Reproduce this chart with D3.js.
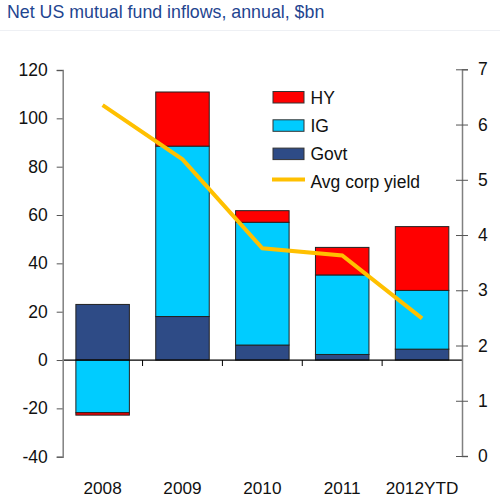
<!DOCTYPE html>
<html>
<head>
<meta charset="utf-8">
<script src="https://cdn.jsdelivr.net/npm/d3@7"></script>
<style>
  body { margin: 0; background: #fff; }
  text { font-family: "Liberation Sans", Arial, sans-serif; }
</style>
</head>
<body>
<svg id="chart" width="500" height="502"></svg>
<script>
// data
var years = ['2008', '2009', '2010', '2011', '2012YTD'];
var govt = [23, 18, 6.2, 2.3, 4.5];
var ig = [-21.8, 70.5, 50.8, 32.9, 24.3];
var hy = [-1.0, 22.4, 4.8, 11.4, 26.4];
var yieldPct = [6.35, 5.37, 3.76, 3.63, 2.49];
var leftTicks = [-40, -20, 0, 20, 40, 60, 80, 100, 120];
var rightTicks = [0, 1, 2, 3, 4, 5, 6, 7];

var colors = { HY: '#ff0000', IG: '#00ccff', Govt: '#2e4b86', line: '#ffc000' };

var svg = d3.select('#chart');
var plotL = 62.7, plotR = 462, plotT = 70, plotB = 456.7;

var x = d3.scaleBand().domain(years).range([plotL, plotR]).paddingInner(0.33).paddingOuter(0.165);
var y = d3.scaleLinear().domain([-40, 120]).range([plotB, plotT]);
var y2 = d3.scaleLinear().domain([0, 7]).range([456, 69.3]);

// title
svg.append('text')
    .attr('x', 7).attr('y', 18)
    .attr('fill', '#1f4590')
    .style('font-size', '17.8px')
    .text('Net US mutual fund inflows, annual, $bn');
svg.append('line')
    .attr('x1', 0).attr('x2', 500).attr('y1', 30.5).attr('y2', 30.5)
    .attr('stroke', '#eef0f4').attr('stroke-width', 1);

// stacks: positives stack upward from 0, negatives downward
var rows = years.map(function (yr, i) {
    var parts = [{ key: 'Govt', v: govt[i] }, { key: 'IG', v: ig[i] }, { key: 'HY', v: hy[i] }];
    var pos = 0, neg = 0;
    return parts.map(function (p) {
        var y0, y1;
        if (p.v >= 0) { y0 = pos; pos += p.v; y1 = pos; }
        else { y0 = neg; neg += p.v; y1 = neg; }
        return { year: yr, key: p.key, y0: y0, y1: y1 };
    });
});

svg.append('g').selectAll('rect')
    .data(d3.merge(rows))
    .enter().append('rect')
    .attr('x', function (d) { return x(d.year); })
    .attr('width', x.bandwidth())
    .attr('y', function (d) { return y(Math.max(d.y0, d.y1)); })
    .attr('height', function (d) { return Math.abs(y(d.y0) - y(d.y1)); })
    .attr('fill', function (d) { return colors[d.key]; })
    .attr('stroke', '#222')
    .attr('stroke-width', 1);

// zero line with category ticks between bars
svg.append('line')
    .attr('x1', plotL).attr('x2', plotR)
    .attr('y1', y(0)).attr('y2', y(0))
    .attr('stroke', '#000').attr('stroke-width', 1.2);
var gap = (x.step() - x.bandwidth()) / 2;
svg.append('g').selectAll('line')
    .data(years.slice(1))
    .enter().append('line')
    .attr('x1', function (d) { return x(d) - gap; })
    .attr('x2', function (d) { return x(d) - gap; })
    .attr('y1', y(0)).attr('y2', y(0) + 6)
    .attr('stroke', '#000').attr('stroke-width', 1);

// category labels
svg.append('g').selectAll('text')
    .data(years)
    .enter().append('text')
    .attr('x', function (d) { return x(d) + x.bandwidth() / 2; })
    .attr('y', 494)
    .attr('text-anchor', 'middle')
    .attr('fill', '#111')
    .style('font-size', '17.2px')
    .text(function (d) { return d; });

// left axis
var gl = svg.append('g').attr('transform', 'translate(' + plotL + ',0)')
    .call(d3.axisLeft(y).tickValues(leftTicks).tickFormat(function (d) { return String(d); })
        .tickSize(6).tickPadding(9));
gl.select('.domain').attr('stroke', '#808080').attr('stroke-width', 1.5);
gl.selectAll('.tick line').attr('stroke', '#555');
gl.selectAll('text').style('font-size', '17.5px').attr('fill', '#111')
    .style('font-family', '"Liberation Sans", Arial, sans-serif');

// right axis, ticks cross the line
var gr = svg.append('g').attr('transform', 'translate(' + plotR + ',0)')
    .call(d3.axisRight(y2).tickValues(rightTicks).tickFormat(d3.format('d')).tickSize(6).tickPadding(10));
gr.select('.domain').attr('stroke', '#808080').attr('stroke-width', 1.5);
gr.selectAll('.tick line').attr('x1', -6).attr('stroke', '#555');
gr.selectAll('text').style('font-size', '17.5px').attr('fill', '#111')
    .style('font-family', '"Liberation Sans", Arial, sans-serif');

// yield line
var line = d3.line()
    .x(function (d, i) { return x(years[i]) + x.bandwidth() / 2; })
    .y(function (d) { return y2(d); });
svg.append('path')
    .datum(yieldPct)
    .attr('d', line)
    .attr('fill', 'none')
    .attr('stroke', colors.line)
    .attr('stroke-width', 4);

// legend
var legend = [
    { label: 'HY', type: 'box', c: colors.HY },
    { label: 'IG', type: 'box', c: colors.IG },
    { label: 'Govt', type: 'box', c: colors.Govt },
    { label: 'Avg corp yield', type: 'line', c: colors.line }
];
var lg = svg.append('g').attr('transform', 'translate(273,91)');
legend.forEach(function (d, i) {
    var g = lg.append('g').attr('transform', 'translate(0,' + (i * 28.3) + ')');
    if (d.type === 'box') {
        g.append('rect').attr('x', 0).attr('y', 0.5).attr('width', 31).attr('height', 11.5)
            .attr('fill', d.c).attr('stroke', '#333').attr('stroke-width', 1);
    } else {
        g.append('line').attr('x1', -1).attr('x2', 32).attr('y1', 3.5).attr('y2', 3.5)
            .attr('stroke', d.c).attr('stroke-width', 4);
    }
    g.append('text').attr('x', 37.5).attr('y', 12.5)
        .attr('fill', '#111')
        .style('font-size', '17.5px')
        .text(d.label);
});
</script>
</body>
</html>
